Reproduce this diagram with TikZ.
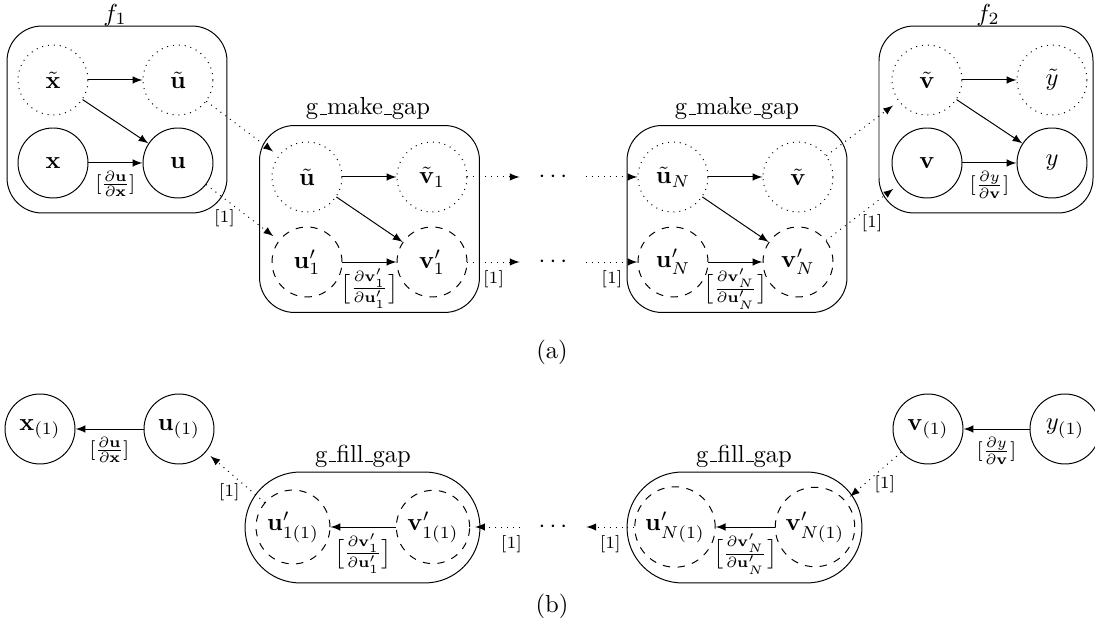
\documentclass[tikz,border=0pt]{standalone}
\usetikzlibrary{arrows}
\newcommand{\uscore}{\leavevmode\kern.06em\vbox{\hrule width.3em}}
\newcommand{\primefrac}[2]{\bigl[\vcenter{\hbox{\footnotesize$\frac{#1}{#2}$}}\bigr]}
\begin{document}
\begin{tikzpicture}[x=0.4065pt,y=-0.4065pt,
  vnode/.style={circle, draw, minimum size=1cm, inner sep=2pt},
  dotnode/.style={vnode, dotted},
  dashnode/.style={vnode, dashed},
  abox/.style={draw, rounded corners=0.5cm, inner sep=0pt, minimum width=89.4pt, minimum height=76pt},
  bbox/.style={draw, rounded corners=22.5pt, inner sep=0pt, minimum width=95.5pt, minimum height=45.1pt},
  dotsnode/.style={inner sep=7.5pt},
  link/.style={-latex},
  dlink/.style={-latex, dotted},
  lab/.style={font=\scriptsize},
  flab/.style={font=\footnotesize, below, inner sep=3pt},
  plab/.style={below, inner sep=2.5pt}
]
\useasboundingbox (0,0) rectangle (1095,634);

% ---------- (a) ----------
\node[abox] (bf1) at (117,119.5) {};
\node (lf1) at (115,15) {$f_1$};
\node[abox] (bg1) at (369.5,219) {};
\node (lg1) at (368,109) {g\uscore make\uscore gap};
\node[abox] (bg2) at (737,219) {};
\node (lg2) at (737,109) {g\uscore make\uscore gap};
\node[abox, minimum width=87pt] (bf2) at (986,119.5) {};
\node (lf2) at (988,15) {$f_2$};

\node[dotnode] (xt) at (53,80) {$\tilde{\mathbf{x}}$};
\node[dotnode] (ut) at (178,80) {$\tilde{\mathbf{u}}$};
\node[vnode] (x) at (53,163) {$\mathbf{x}$};
\node[vnode] (u) at (178,163) {$\mathbf{u}$};

\node[dotnode] (ut1) at (307,177) {$\tilde{\mathbf{u}}$};
\node[dotnode] (vt1) at (432,177) {$\tilde{\mathbf{v}}_1$};
\node[dashnode] (up1) at (307,262) {$\mathbf{u}'_1$};
\node[dashnode] (vp1) at (432,262) {$\mathbf{v}'_1$};

\node[dotnode] (utN) at (673,177) {$\tilde{\mathbf{u}}_N$};
\node[dotnode] (vtN) at (798,177) {$\tilde{\mathbf{v}}$};
\node[dashnode] (upN) at (673,262) {$\mathbf{u}'_N$};
\node[dashnode] (vpN) at (798,262) {$\mathbf{v}'_N$};

\node[dotnode] (vt) at (927,80) {$\tilde{\mathbf{v}}$};
\node[dotnode] (yt) at (1052,80) {$\tilde{y}$};
\node[vnode] (v) at (927,163) {$\mathbf{v}$};
\node[vnode] (y) at (1052,163) {$y$};

\node[dotsnode] (d1) at (553,177) {$\cdots$};
\node[dotsnode] (d2) at (553,262) {$\cdots$};

\draw[link] (xt) -- (ut);
\draw[link] (xt) -- (u);
\draw[link] (x) -- node[flab] {$[\frac{\partial\mathbf{u}}{\partial\mathbf{x}}]$} (u);

\draw[link] (ut1) -- (vt1);
\draw[link] (ut1) -- (vp1);
\draw[link] (up1) -- node[plab] {$\primefrac{\partial\mathbf{v}'_1}{\partial\mathbf{u}'_1}$} (vp1);

\draw[link] (utN) -- (vtN);
\draw[link] (utN) -- (vpN);
\draw[link] (upN) -- node[plab] {$\primefrac{\partial\mathbf{v}'_N}{\partial\mathbf{u}'_N}$} (vpN);

\draw[link] (vt) -- (yt);
\draw[link] (vt) -- (y);
\draw[link] (v) -- node[flab] {$[\frac{\partial y}{\partial\mathbf{v}}]$} (y);

\draw[dlink, shorten >=2.8pt] (ut) -- (ut1);
\draw[dlink, shorten >=2.8pt] (u) -- node[lab, shift={(-18,6)}] {[1]} (up1);
\draw[dlink] (vt1) -- (d1);
\draw[dlink] (d1) -- (utN);
\draw[dlink] (vp1) -- node[lab, below] {[1]} (d2);
\draw[dlink] (d2) -- node[lab, below] {[1]} (upN);
\draw[dlink, shorten >=2.8pt] (vtN) -- (vt);
\draw[dlink, shorten >=2.8pt] (vpN) -- node[lab, shift={(9.5,10.5)}] {[1]} (v);

\node (capa) at (552,352) {(a)};

% ---------- (b) ----------
\node[vnode] (x1) at (40,429) {$\mathbf{x}_{(1)}$};
\node[vnode] (u1) at (179,429) {$\mathbf{u}_{(1)}$};
\node[vnode] (v1) at (928,429) {$\mathbf{v}_{(1)}$};
\node[vnode] (y1) at (1065,429) {$y_{(1)}$};

\node[bbox] (fb1) at (362.5,527.5) {};
\node (lfb1) at (363,456) {g\uscore fill\uscore gap};
\node[bbox] (fb2) at (744.5,527.5) {};
\node (lfb2) at (744,456) {g\uscore fill\uscore gap};

\node[dashnode] (up11) at (293,527) {$\mathbf{u}'_{1(1)}$};
\node[dashnode] (vp11) at (433,527) {$\mathbf{v}'_{1(1)}$};
\node[dashnode] (upN1) at (675,527) {$\mathbf{u}'_{N(1)}$};
\node[dashnode] (vpN1) at (815,527) {$\mathbf{v}'_{N(1)}$};

\node[dotsnode] (d3) at (553,527) {$\cdots$};

\draw[link] (u1) -- node[flab] {$[\frac{\partial\mathbf{u}}{\partial\mathbf{x}}]$} (x1);
\draw[link] (y1) -- node[flab] {$[\frac{\partial y}{\partial\mathbf{v}}]$} (v1);
\draw[link] (vp11) -- node[plab] {$\primefrac{\partial\mathbf{v}'_1}{\partial\mathbf{u}'_1}$} (up11);
\draw[link] (vpN1) -- node[plab] {$\primefrac{\partial\mathbf{v}'_N}{\partial\mathbf{u}'_N}$} (upN1);

\draw[dlink, shorten >=2.4pt] (v1) -- node[lab, shift={(11.5,7.5)}] {[1]} (vpN1);
\draw[dlink] (upN1) -- node[lab, below] {[1]} (d3);
\draw[dlink, shorten >=2pt] (d3) -- node[lab, shift={(16.5,17)}] {[1]} (vp11);
\draw[dlink, shorten >=2.4pt] (up11) -- node[lab, shift={(-6,15)}] {[1]} (u1);

\node (capb) at (552,606) {(b)};
\end{tikzpicture}
\end{document}
